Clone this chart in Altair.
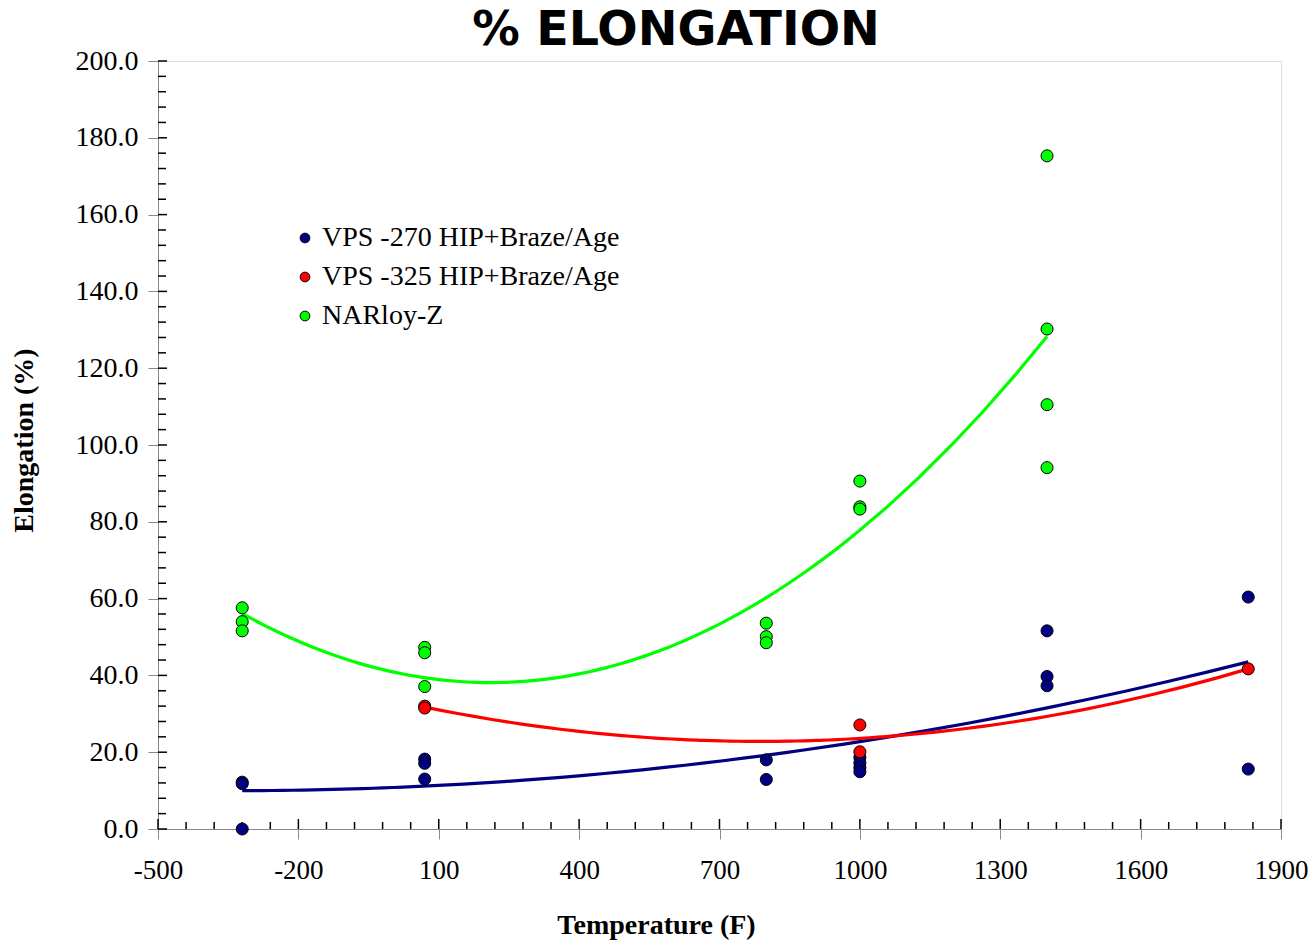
import altair as alt
import pandas as pd

# ---- data ----
chart_title = "% ELONGATION"
series_names = ["VPS -270 HIP+Braze/Age", "VPS -325 HIP+Braze/Age", "NARloy-Z"]
series_colors = ["#000080", "#FF0000", "#00FF00"]

blue_x = [-320, -320, -320, 70, 70, 70, 800, 800, 1000, 1000, 1000, 1000, 1400, 1400, 1400, 1830, 1830]
blue_y = [12.2, 11.8, 0.0, 18.2, 17.1, 13.0, 18.0, 12.9, 18.6, 17.2, 16.0, 14.9, 51.6, 39.7, 37.3, 60.4, 15.6]

red_x = [70, 70, 1000, 1000, 1830]
red_y = [32.0, 31.5, 27.1, 20.1, 41.7]

green_x = [-320, -320, -320, 70, 70, 70, 800, 800, 800, 1000, 1000, 1000, 1400, 1400, 1400, 1400]
green_y = [57.6, 54.0, 51.6, 47.3, 45.9, 37.1, 53.6, 50.1, 48.5, 90.6, 83.9, 83.3, 175.3, 130.2, 110.5, 94.1]

x_ticks = [-500, -200, 100, 400, 700, 1000, 1300, 1600, 1900]
y_ticks = [0, 20, 40, 60, 80, 100, 120, 140, 160, 180, 200]
x_minor = [v for v in range(-500, 1901, 60) if v not in x_ticks]
y_minor = [v for v in range(0, 201, 4) if v not in y_ticks]

rows = []
for name, xs, ys in zip(series_names, [blue_x, red_x, green_x], [blue_y, red_y, green_y]):
    for a, b in zip(xs, ys):
        rows.append({"Temperature": a, "Elongation": b, "Series": name})
df = pd.DataFrame(rows)

W, H = 1123, 768
serif = "Liberation Serif"

xscale = alt.Scale(domain=[-500, 1900], nice=False, zero=False)
yscale = alt.Scale(domain=[0, 200], nice=False)
cscale = alt.Scale(domain=series_names, range=series_colors)

base = alt.Chart(df)

lines = base.transform_regression(
    "Temperature", "Elongation", groupby=["Series"], method="poly", order=2
).mark_line(strokeWidth=3.2, clip=False).encode(
    x=alt.X("Temperature:Q", scale=xscale),
    y=alt.Y("Elongation:Q", scale=yscale),
    color=alt.Color("Series:N", scale=cscale, legend=None),
)

points = base.mark_point(
    filled=True, size=145, stroke="black", strokeWidth=1, opacity=1, clip=False
).encode(
    x=alt.X(
        "Temperature:Q", scale=xscale,
        axis=alt.Axis(
            values=x_ticks, title="Temperature (F)", labelExpr="datum.value + ''",
            labelFont=serif, labelFontSize=27, labelFlush=False, labelOverlap=False,
            labelColor="black", tickSize=10, labelPadding=18, grid=False,
            titleFont=serif, titleFontSize=28, titleFontWeight="bold", titleColor="black",
            titleX=498, titleY=104, titleBaseline="alphabetic", titleAlign="center",
        ),
    ),
    y=alt.Y(
        "Elongation:Q", scale=yscale,
        axis=alt.Axis(
            values=y_ticks, format=".1f", title="Elongation (%)", labelFont=serif,
            labelFontSize=28, labelColor="black", tickSize=10, labelPadding=10,
            grid=False, labelFlush=False, labelOverlap=False,
            titleFont=serif, titleFontSize=28, titleFontWeight="bold", titleColor="black",
            titleX=-126, titleY=379, titleBaseline="alphabetic", titleAlign="center",
        ),
    ),
    color=alt.Color(
        "Series:N", scale=cscale,
        legend=alt.Legend(
            title=None, orient="none", legendX=133, legendY=163, padding=0,
            labelFont=serif, labelFontSize=28, labelColor="black", labelOffset=3,
            symbolType="circle", symbolSize=95, symbolStrokeColor="black",
            symbolStrokeWidth=1, symbolOpacity=1, rowPadding=11, labelLimit=600,
        ),
    ),
)

title_df = pd.DataFrame({"t": [chart_title]})
title_mark = alt.Chart(title_df).mark_text(
    font="DejaVu Sans", fontSize=47.5, fontWeight="bold", color="black",
    align="center", baseline="alphabetic",
).encode(text="t:N", x=alt.value(518), y=alt.value(-16))

xminor_df = pd.DataFrame({"v": x_minor})
yminor_df = pd.DataFrame({"v": y_minor})
xmajor_df = pd.DataFrame({"v": x_ticks})
ymajor_df = pd.DataFrame({"v": y_ticks})

x_minor_rules = alt.Chart(xminor_df).mark_rule(color="black", strokeWidth=1.5).encode(
    x=alt.X("v:Q", scale=xscale), y=alt.value(H - 7), y2=alt.value(H)
)
x_major_rules = alt.Chart(xmajor_df).mark_rule(color="black", strokeWidth=1.5).encode(
    x=alt.X("v:Q", scale=xscale), y=alt.value(H - 10), y2=alt.value(H)
)
y_minor_rules = alt.Chart(yminor_df).mark_rule(color="black", strokeWidth=1.5).encode(
    y=alt.Y("v:Q", scale=yscale), x=alt.value(0), x2=alt.value(8)
)
y_major_rules = alt.Chart(ymajor_df).mark_rule(color="black", strokeWidth=1.5).encode(
    y=alt.Y("v:Q", scale=yscale), x=alt.value(0), x2=alt.value(9)
)

chart = alt.layer(
    x_minor_rules, x_major_rules, y_minor_rules, y_major_rules, lines, points, title_mark
).resolve_legend(color="independent").properties(
    width=W, height=H,
    autosize=alt.AutoSizeParams(type="none"),
    padding={"left": 158, "top": 61, "right": 34, "bottom": 114},
).configure_view(
    stroke="#999999", strokeWidth=2
).configure_axis(
    grid=False, domainColor="black", domainWidth=1.5, tickColor="black", tickWidth=1.5,
).configure(background="white")

chart.save("out.html", embed_options={"renderer": "svg", "actions": False})
